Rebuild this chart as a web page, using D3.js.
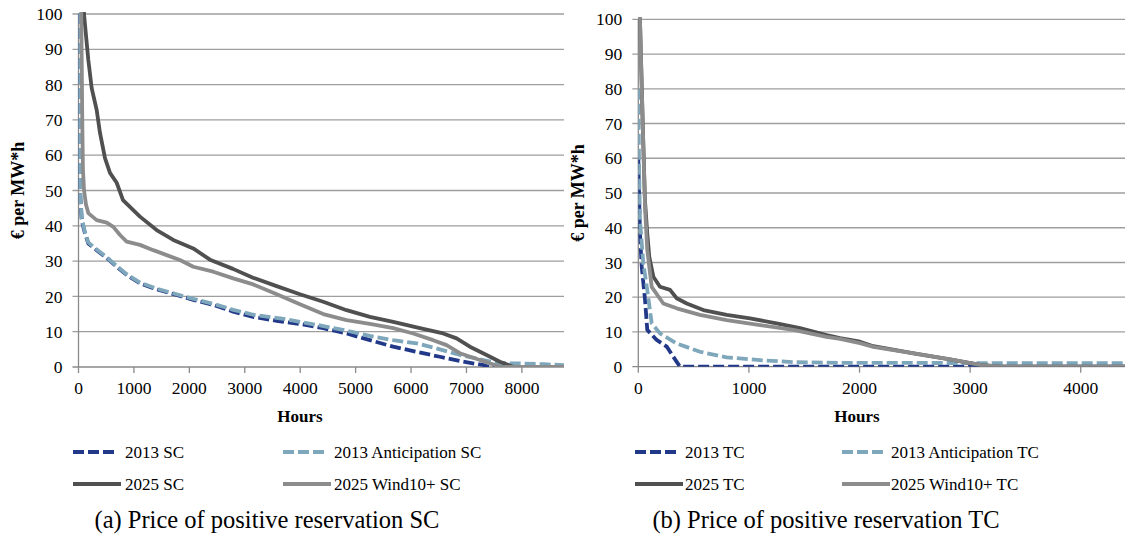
<!DOCTYPE html>
<html>
<head>
<meta charset="utf-8">
<script src="https://cdn.jsdelivr.net/npm/d3@7"></script>
</head>
<body style="margin:0;background:#fff">
<svg id="chart" width="1126" height="538"></svg>
<script>
// ---- data (hours, price in € per MW*h) ----
const sc2013 = [[0,130],[12,100],[20,70],[27,50],[58,41.6],[117,37.8],[177,35],[328,33.1],[509,30.9],[689,28.4],[869,26.1],[1109,23.7],[1410,22],[1771,20.4],[2071,19],[2431,17.6],[2792,15.7],[3153,14.2],[3575,13.1],[3995,12.2],[4416,11],[4837,9.5],[5258,7.6],[5678,5.75],[6100,4.3],[6520,2.9],[6941,1.5],[7301,0.57],[7420,0],[8760,0]];
const scAnticip = [[0,130],[14,100],[22,70],[29,50],[60,42],[117,38.2],[177,35.3],[328,33.3],[509,31.1],[689,28.6],[869,26.3],[1109,23.9],[1410,22.2],[1771,20.6],[2071,19.3],[2431,17.9],[2792,16.2],[3153,14.8],[3634,13.8],[3995,12.8],[4416,11.6],[4837,10.3],[5258,8.8],[5678,7.6],[6100,6.7],[6520,5],[6881,3.4],[7242,2.2],[7543,1.2],[7783,1],[7963,1],[8400,0.8],[8760,0.5]];
const sc2025 = [[0,140],[99,100],[177,87],[238,79],[328,72.8],[388,66.3],[478,59.2],[568,55],[689,52.2],[803,47.3],[1109,42.6],[1410,38.8],[1710,36],[2070,33.6],[2372,30.4],[2787,27.8],[3148,25.3],[3575,22.9],[3995,20.6],[4416,18.5],[4837,16.1],[5258,14.2],[5678,12.8],[6160,11],[6580,9.5],[6822,8.1],[7062,5.75],[7363,3.4],[7603,1.5],[7783,0.4],[7850,0],[8760,0]];
const scWind = [[0,140],[50,100],[68,70],[80,56],[100,50],[135,46],[177,43.6],[328,41.6],[509,40.9],[628,39.7],[749,37.4],[869,35.5],[1109,34.6],[1349,33.1],[1591,31.7],[1830,30.3],[2071,28.4],[2431,27],[2792,25.1],[3153,23.4],[3514,21],[3995,17.8],[4416,15],[4837,13.3],[5258,12.2],[5678,11],[6039,9.5],[6400,7.6],[6641,6.2],[6881,3.9],[7242,2],[7543,0.4],[7620,0],[8760,0]];

const tc2013 = [[0,60],[8,48],[15,38.4],[31,28.8],[61,19.2],[81,10.6],[166,7.7],[257,5.8],[316,2.9],[377,0],[4400,0]];
const tcAnticip = [[0,80],[8,55],[15,42.2],[45,29.8],[81,22.1],[121,12.5],[196,9.6],[347,6.7],[557,4.3],[799,2.7],[1100,1.9],[1402,1.3],[1800,1.1],[4400,1]];
const tc2025 = [[0,150],[15,100],[40,70],[60,48],[81,38.4],[99,31.7],[136,25.9],[196,23],[287,22.1],[347,19.7],[438,18.2],[588,16.3],[799,14.9],[1010,13.9],[1250,12.5],[1462,11.1],[1702,9.1],[1824,8.2],[2004,7.2],[2125,5.9],[2517,3.7],[2818,2.1],[3090,0.5],[3270,0],[4400,0]];
const tcWind = [[0,150],[15,100],[40,70],[62,45],[81,33.6],[121,23],[226,18.2],[347,16.8],[557,14.9],[799,13.4],[1100,12],[1402,10.6],[1702,8.6],[1824,8],[2004,6.8],[2125,5.7],[2517,3.7],[2818,2.1],[3090,0.5],[3270,0],[4400,0]];

const yTicks = d3.range(0, 101, 10);
const scTicks = d3.range(0, 8001, 1000);
const tcTicks = d3.range(0, 4001, 1000);
const scNames = ["2013 SC", "2013 Anticipation SC", "2025 SC", "2025 Wind10+ SC"];
const tcNames = ["2013 TC", "2013 Anticipation TC", "2025 TC", "2025 Wind10+ TC"];

const styles = [
  {color: "#22398a", dash: "11,4"},
  {color: "#7ea7bb", dash: "11,4"},
  {color: "#505050", dash: null},
  {color: "#8c8c8c", dash: null}
];

const FONT = "Liberation Serif";
const svg = d3.select("#chart");

// small helper so every text node carries the font itself
function txt(sel, size) {
  return sel.append("text").attr("font-family", FONT).attr("font-size", size).attr("fill", "#000");
}

function panel(id, series, names, opt) {
  const x = d3.scaleLinear().domain([0, opt.xMax]).range([opt.left, opt.right]);
  const y = d3.scaleLinear().domain([0, 100]).range([opt.bottom, opt.top]);
  const g = svg.append("g");

  g.append("clipPath").attr("id", id)
    .append("rect").attr("x", opt.left).attr("y", opt.top - 2)
    .attr("width", opt.right - opt.left).attr("height", opt.bottom - opt.top + 2);

  // gridlines + y ticks
  g.append("g").selectAll("line").data(yTicks.filter(d => d > 0)).join("line")
    .attr("x1", opt.left - 6).attr("x2", opt.right)
    .attr("y1", d => y(d)).attr("y2", d => y(d))
    .attr("stroke", "#9e9e9e").attr("stroke-width", 1.3);

  g.append("g").selectAll("text").data(yTicks).join("text")
    .attr("font-family", FONT).attr("font-size", 17.5)
    .attr("x", opt.left - 16).attr("y", d => y(d)).attr("dy", "0.35em")
    .attr("text-anchor", "end")
    .text(d => d);

  // axes
  g.append("line").attr("x1", opt.left - 6).attr("x2", opt.right)
    .attr("y1", opt.bottom).attr("y2", opt.bottom)
    .attr("stroke", "#8a8a8a").attr("stroke-width", 1.3);
  g.append("line").attr("x1", opt.left).attr("x2", opt.left)
    .attr("y1", opt.top).attr("y2", opt.bottom)
    .attr("stroke", "#8a8a8a").attr("stroke-width", 1.3);

  g.append("g").selectAll("line").data(opt.xTicks).join("line")
    .attr("x1", d => x(d)).attr("x2", d => x(d))
    .attr("y1", opt.bottom).attr("y2", opt.bottom + 6)
    .attr("stroke", "#8a8a8a").attr("stroke-width", 1.3);
  g.append("g").selectAll("text").data(opt.xTicks).join("text")
    .attr("font-family", FONT).attr("font-size", 17.5)
    .attr("x", d => x(d)).attr("y", opt.bottom + 27)
    .attr("text-anchor", "middle")
    .text(d => d);

  // curves
  const line = d3.line().x(d => x(d[0])).y(d => y(d[1]));
  g.append("g").attr("clip-path", `url(#${id})`)
    .selectAll("path").data(series).join("path")
    .attr("d", line)
    .attr("fill", "none")
    .attr("stroke", (d, i) => styles[i].color)
    .attr("stroke-width", 3.8)
    .attr("stroke-dasharray", (d, i) => styles[i].dash)
    .attr("stroke-linejoin", "round");

  // axis titles
  txt(g, 17).attr("x", opt.hoursX).attr("y", 422)
    .attr("text-anchor", "middle").attr("font-weight", "bold")
    .text("Hours");
  txt(g, 18)
    .attr("transform", `translate(${opt.yLabX},${(opt.top + opt.bottom) / 2}) rotate(-90)`)
    .attr("dy", "0.35em").attr("text-anchor", "middle").attr("font-weight", "bold")
    .text("€ per MW*h");

  // legend
  const rows = [452, 484];
  names.forEach((name, i) => {
    const col = i % 2, row = Math.floor(i / 2);
    const lx = opt.legX[col];
    const len = styles[i].dash ? 43 : 48;
    g.append("line")
      .attr("x1", lx).attr("x2", lx + len)
      .attr("y1", rows[row]).attr("y2", rows[row])
      .attr("stroke", styles[i].color).attr("stroke-width", 4)
      .attr("stroke-dasharray", styles[i].dash);
    txt(g, 17).attr("x", opt.legTextX[col]).attr("y", rows[row] + 6).text(name);
  });

  txt(g, 24.5).attr("x", opt.capX).attr("y", 528)
    .attr("text-anchor", "middle")
    .text(opt.caption);
}

panel("clipA", [sc2013, scAnticip, sc2025, scWind], scNames, {
  left: 78.5, right: 564, top: 14, bottom: 367, xMax: 8760, xTicks: scTicks,
  hoursX: 300, yLabX: 18, legX: [73, 283], legTextX: [125, 334],
  capX: 267, caption: "(a) Price of positive reservation SC"
});

panel("clipB", [tc2013, tcAnticip, tc2025, tcWind], tcNames, {
  left: 638.3, right: 1125, top: 19.3, bottom: 366.7, xMax: 4400, xTicks: tcTicks,
  hoursX: 857, yLabX: 578, legX: [635, 842], legTextX: [685, 891],
  capX: 826, caption: "(b) Price of positive reservation TC"
});
</script>
</body>
</html>
